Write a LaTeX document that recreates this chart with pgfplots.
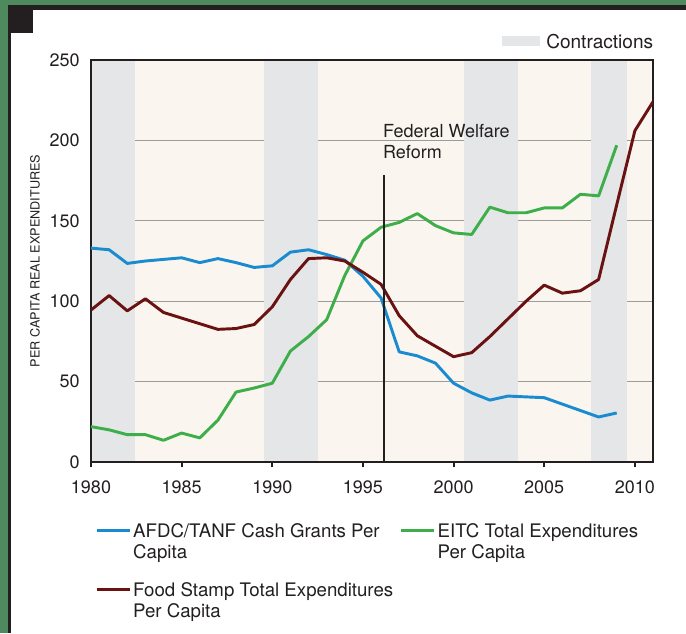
\documentclass[border=0pt]{standalone}
\usepackage{fontspec}
\setmainfont{TeX Gyre Heros}
\usepackage{pgfplots}
\pgfplotsset{compat=1.18}

\definecolor{afdcblue}{HTML}{1B8BD0}
\definecolor{eitcgreen}{HTML}{3DAE49}
\definecolor{foodred}{HTML}{6A1212}
\definecolor{bandgray}{HTML}{E4E6E8}
\definecolor{plotbg}{HTML}{FAF6EF}
\definecolor{gridgray}{HTML}{9B9B9B}
\definecolor{inkblack}{HTML}{231F20}
\definecolor{framegreen}{HTML}{4E8A5E}

\newcommand{\two}[2]{\begin{tabular}[t]{@{}l@{}}#1\\#2\end{tabular}}

\begin{document}
\begin{tikzpicture}
\path[use as bounding box] (-68.25pt,-128.25pt) rectangle (446.25pt,346.5pt);
\fill[white] (-68.25pt,-128.25pt) rectangle (446.25pt,346.5pt);
% page frame
\fill[framegreen] (-68.25pt,342.56pt) rectangle (446.25pt,346.5pt);
\fill[framegreen] (-68.25pt,-128.25pt) rectangle (-62.25pt,346.5pt);
\fill[inkblack] (-62.25pt,339.3pt) rectangle (446.25pt,342.56pt);
\fill[inkblack] (-62.25pt,-128.25pt) rectangle (-60pt,342.56pt);
\fill[inkblack] (-62.25pt,321.75pt) rectangle (-43.5pt,342.56pt);
% contractions key
\fill[bandgray] (308.25pt,312pt) rectangle (336.75pt,319.5pt);
\node[anchor=west, inner sep=0pt, font=\fontsize{14.3}{16}\selectfont, text=inkblack]
  at (341.25pt,315.4pt) {Contractions};

\begin{axis}[
  at={(0pt,0pt)}, anchor=south west,
  scale only axis, width=421.5pt, height=301.5pt,
  xmin=1980, xmax=2011, ymin=0, ymax=250,
  xtick={1980,1985,...,2010}, ytick={0,50,...,250},
  tick pos=left, tick align=outside, major tick length=4pt,
  ytick style={draw=none},
  xtick style={line width=1.4pt, inkblack},
  ymajorgrids, major grid style={gridgray, line width=1pt},
  axis background/.style={fill=plotbg},
  axis line style={inkblack, line width=1.8pt},
  ticklabel style={font=\fontsize{13.5}{16}\selectfont, text=inkblack},
  xticklabel style={inner sep=0pt, yshift=-9.5pt},
  yticklabel style={inner sep=0pt, xshift=-4.25pt},
  /pgf/number format/assume math mode=true,
  /pgf/number format/1000 sep={},
  every axis y label/.style={at={(axis description cs:-0.0996,0.5)}, rotate=90, anchor=center},
  ylabel={PER CAPITA REAL EXPENDITURES},
  ylabel style={font=\fontsize{9.5}{11}\selectfont, text=inkblack},
  legend columns=2, legend cell align=left,
  legend style={at={(axis description cs:0.0071,-0.1376)}, anchor=north west,
    draw=none, fill=none, inner sep=0pt, row sep=24.75pt,
    font=\fontsize{14}{15.75}\selectfont, text=inkblack,
    nodes={inner sep=0pt},
    /tikz/every odd column/.style={column sep=1.5pt},
    /tikz/every even column/.style={column sep=4.85pt}},
  legend image code/.code={
    \path[draw=none, fill=none] (0pt,-9.95pt) (24.75pt,9.95pt);
    \draw[#1] (0pt,0.55pt) -- (24.75pt,0.55pt);},
  every axis plot/.append style={line width=2.2pt, line join=round},
]
% contraction bands
\addplot[fill=bandgray, draw=none, line width=0pt, forget plot]
  coordinates {(1980.07,0.75) (1980.07,249.25) (1982.4,249.25) (1982.4,0.75)} -- cycle;
\addplot[fill=bandgray, draw=none, line width=0pt, forget plot]
  coordinates {(1989.55,0.75) (1989.55,249.25) (1992.52,249.25) (1992.52,0.75)} -- cycle;
\addplot[fill=bandgray, draw=none, line width=0pt, forget plot]
  coordinates {(2000.57,0.75) (2000.57,249.25) (2003.55,249.25) (2003.55,0.75)} -- cycle;
\addplot[fill=bandgray, draw=none, line width=0pt, forget plot]
  coordinates {(2007.58,0.75) (2007.58,249.25) (2009.56,249.25) (2009.56,0.75)} -- cycle;

\addplot[afdcblue] coordinates {
  (1980,133) (1981,132) (1982,123.5) (1983,125) (1984,126) (1985,127)
  (1986,124) (1987,126.5) (1988,124) (1989,121) (1990,122) (1991,130.5)
  (1992,132) (1993,129) (1994,125.5) (1995,115.5) (1996,102) (1997,68.5)
  (1998,66) (1999,61.5) (2000,49) (2001,43) (2002,38.5) (2003,41)
  (2004,40.5) (2005,40) (2006,36) (2007,32) (2008,28) (2009,30.5)
};
\addlegendentry{\two{AFDC/TANF Cash Grants Per}{Capita}}

\addplot[eitcgreen] coordinates {
  (1980,22) (1981,20) (1982,17) (1983,17) (1984,13.5) (1985,18)
  (1986,15) (1987,26) (1988,43.5) (1989,46) (1990,49) (1991,69)
  (1992,78) (1993,88.5) (1994,116) (1995,137.5) (1996,146) (1997,149)
  (1998,154.5) (1999,147) (2000,142.5) (2001,141.5) (2002,158.5) (2003,155)
  (2004,155) (2005,158) (2006,158) (2007,166.5) (2008,165.5) (2009,197)
};
\addlegendentry{\two{EITC Total Expenditures}{Per Capita}}

\addplot[foodred] coordinates {
  (1980,94.5) (1981,103.5) (1982,94) (1983,101.5) (1984,93) (1985,89.5)
  (1986,86) (1987,82.5) (1988,83) (1989,85.5) (1990,96.5) (1991,113.5)
  (1992,126.5) (1993,127) (1994,125) (1995,118) (1996,110.5) (1997,91)
  (1998,78.5) (1999,72) (2000,65.5) (2001,68) (2002,78) (2003,89)
  (2004,100) (2005,110) (2006,105) (2007,106.5) (2008,113.5) (2009,160)
  (2010,206) (2011,224)
};
\addlegendentry{\two{Food Stamp Total Expenditures}{Per Capita}}

% welfare reform marker
\draw[inkblack, line width=1.8pt] (axis cs:1996.17,0) -- (axis cs:1996.17,178.7);
\node[anchor=base west, inner sep=0pt, font=\fontsize{13.5}{15.5}\selectfont, text=inkblack]
  at (axis cs:1996.1,201.7) {\two{Federal Welfare}{Reform}};
\end{axis}
\end{tikzpicture}
\end{document}
